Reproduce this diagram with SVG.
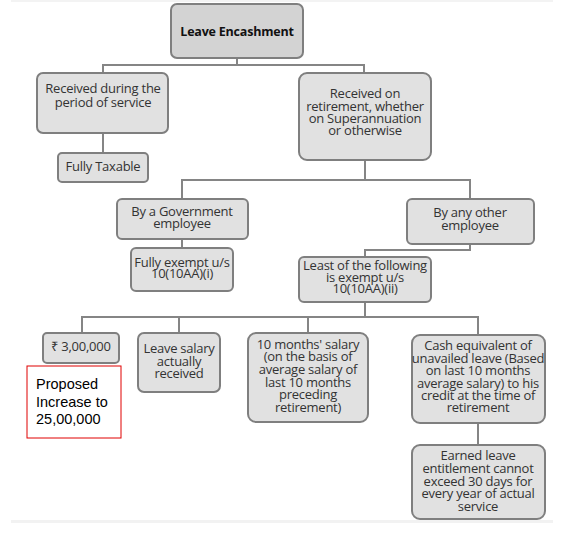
<svg xmlns="http://www.w3.org/2000/svg" width="567" height="534" viewBox="0 0 567 534">
<style>
.box{fill:#e1e1e1;stroke:#7f7f7f;stroke-width:2}
.root{fill:#d3d3d3;stroke:#7f7f7f;stroke-width:2}
.t{font-family:"Open Sans","Liberation Sans",sans-serif;font-size:13px;fill:#333;text-anchor:middle;letter-spacing:-0.25px}
.tb{font-family:"Open Sans","Liberation Sans",sans-serif;font-size:12.5px;font-weight:bold;fill:#111;text-anchor:middle;letter-spacing:-0.2px}
.c{fill:none;stroke:#858585;stroke-width:2}
.note{font-family:"Liberation Sans",Arial,sans-serif;font-size:14.5px;fill:#000}
</style>
<rect x="0" y="0" width="567" height="534" fill="#fff"/>
<rect x="11" y="0" width="542" height="2" fill="#f3f3f3"/>
<rect x="11" y="520" width="542" height="3" fill="#f2f2f2"/>
<g id="connectors">
<path class="c" d="M237 58V65M103 73V65H364V73"/>
<path class="c" d="M103 133V153"/>
<path class="c" d="M365 160V180M182 199V180H470V199"/>
<path class="c" d="M182 239V248"/>
<path class="c" d="M470 244V250H365V257"/>
<path class="c" d="M365 302V317M82 333V317H478V335M179 317V333M308 317V333"/>
<path class="c" d="M478 423V445"/>
</g>
<g id="root"><rect class="root" x="171" y="4" width="132" height="54" rx="6"/><text class="tb" x="237" y="36">Leave Encashment</text></g>
<g id="during"><rect class="box" x="37" y="73" width="131" height="60" rx="6"/><text class="t" x="103" y="93">Received during the</text><text class="t" x="103" y="107">period of service</text></g>
<g id="taxable"><rect class="box" x="58" y="153" width="90" height="29" rx="4"/><text class="t" x="103" y="171">Fully Taxable</text></g>
<g id="retirement"><rect class="box" x="299" y="73" width="132" height="87" rx="8"/><text class="t" x="365" y="98">Received on</text><text class="t" x="365" y="111">retirement, whether</text><text class="t" x="365" y="123">on Superannuation</text><text class="t" x="365" y="135">or otherwise</text></g>
<g id="govt"><rect class="box" x="117" y="199" width="131" height="40" rx="5"/><text class="t" x="182" y="216">By a Government</text><text class="t" x="182" y="228">employee</text></g>
<g id="exempt"><rect class="box" x="131" y="248" width="102" height="43" rx="5"/><text class="t" x="182" y="267">Fully exempt u/s</text><text class="t" x="182" y="278">10(10AA)(i)</text></g>
<g id="other"><rect class="box" x="407" y="199" width="127" height="45" rx="5"/><text class="t" x="470" y="217">By any other</text><text class="t" x="470" y="230">employee</text></g>
<g id="least"><rect class="box" x="299" y="257" width="132" height="45" rx="5"/><text class="t" x="365" y="270">Least of the following</text><text class="t" x="365" y="282">is exempt u/s</text><text class="t" x="365" y="293">10(10AA)(ii)</text></g>
<g id="limit"><rect class="box" x="43" y="333" width="76" height="30" rx="4"/><text class="t" x="81" y="351">₹ 3,00,000</text></g>
<g id="actual"><rect class="box" x="138" y="333" width="82" height="59" rx="6"/><text class="t" x="179" y="353">Leave salary</text><text class="t" x="179" y="366">actually</text><text class="t" x="179" y="378">received</text></g>
<g id="tenmonths"><rect class="box" x="248" y="333" width="120" height="89" rx="8"/><text class="t" x="308" y="349">10 months' salary</text><text class="t" x="308" y="361">(on the basis of</text><text class="t" x="308" y="374">average salary of</text><text class="t" x="308" y="387">last 10 months</text><text class="t" x="308" y="399">preceding</text><text class="t" x="308" y="412">retirement)</text></g>
<g id="cash"><rect class="box" x="412" y="335" width="133" height="88" rx="8"/><text class="t" x="478" y="350">Cash equivalent of</text><text class="t" x="478" y="363">unavailed leave (Based</text><text class="t" x="478" y="375">on last 10 months</text><text class="t" x="478" y="388">average salary)  to his</text><text class="t" x="478" y="400">credit at the time of</text><text class="t" x="478" y="412">retirement</text></g>
<g id="earned"><rect class="box" x="412" y="445" width="133" height="74" rx="8"/><text class="t" x="478" y="460">Earned leave</text><text class="t" x="478" y="473">entitlement cannot</text><text class="t" x="478" y="486">exceed 30 days for</text><text class="t" x="478" y="498">every year of actual</text><text class="t" x="478" y="511">service</text></g>
<g id="proposed"><rect x="27" y="366" width="94" height="72" fill="#fff" stroke="#e00000" stroke-width="1"/><text class="note" x="36" y="389">Proposed</text><text class="note" x="36" y="407">Increase to</text><text class="note" x="36" y="424">25,00,000</text></g>
</svg>
